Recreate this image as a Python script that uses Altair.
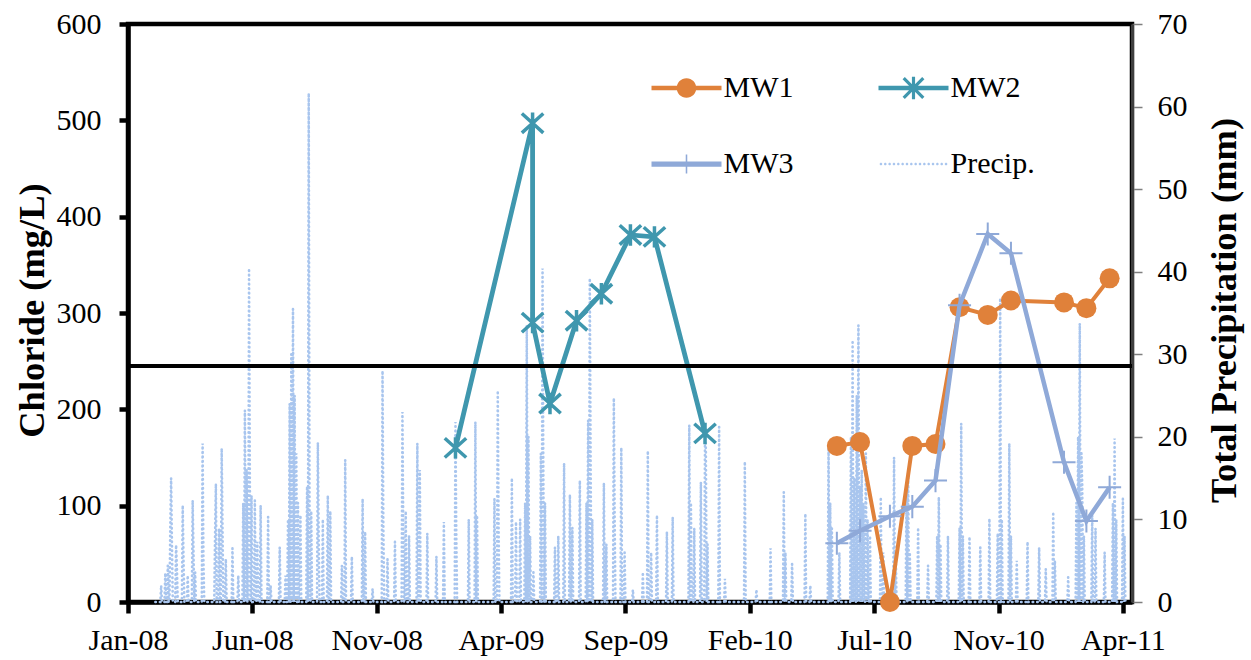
import altair as alt
import pandas as pd

SERIF = "Liberation Serif"

# ---- chloride in monitoring wells (mg/L) ----
mw2_dates = ["2009-02-11", "2009-05-15", "2009-05-15", "2009-06-05", "2009-07-07",
             "2009-08-06", "2009-09-10", "2009-10-09", "2009-12-09"]
mw2_values = [160, 497, 290, 206, 292, 320, 381, 379, 175]

mw13_dates = ["2010-05-17", "2010-06-14", "2010-07-20", "2010-08-16", "2010-09-13",
              "2010-10-12", "2010-11-15", "2010-12-13", "2011-02-15", "2011-03-14",
              "2011-04-11"]
mw1_values = [162, 166, 0, 162, 164, 306, 298, 313, 311, 305, 336]
mw3_values = [61, 74, 89, 99, 126, 308, 382, 362, 145, 84, 119]

# reference chloride level drawn across the plot (mg/L)
chloride_limit = [245]

# ---- daily precipitation (mm); days not listed were dry ----
precip_first_day = "2008-02-15"
precip_last_day = "2011-04-30"
rain_dates = [
    "2008-02-22", "2008-02-27", "2008-03-01", "2008-03-04", "2008-03-05", "2008-03-06",
    "2008-03-11", "2008-03-12", "2008-03-19", "2008-03-20", "2008-03-25", "2008-03-31",
    "2008-04-01", "2008-04-03", "2008-04-12", "2008-04-13", "2008-04-27", "2008-04-28",
    "2008-05-02", "2008-05-05", "2008-05-06", "2008-05-10", "2008-05-18", "2008-05-25",
    "2008-05-31", "2008-06-02", "2008-06-04", "2008-06-07", "2008-06-08", "2008-06-10",
    "2008-06-14", "2008-06-17", "2008-06-21", "2008-06-30", "2008-07-03", "2008-07-14",
    "2008-07-21", "2008-07-24", "2008-07-26", "2008-07-28", "2008-07-30", "2008-08-01",
    "2008-08-03", "2008-08-05", "2008-08-08", "2008-08-16", "2008-08-18", "2008-08-19",
    "2008-08-21", "2008-08-29", "2008-08-30", "2008-09-04", "2008-09-10", "2008-09-13",
    "2008-09-27", "2008-10-01", "2008-10-09", "2008-10-22", "2008-10-25", "2008-11-03",
    "2008-11-15", "2008-11-16", "2008-11-21", "2008-11-30", "2008-12-09", "2008-12-10",
    "2008-12-13", "2008-12-17", "2008-12-27", "2008-12-30",
    "2009-01-08", "2009-01-19", "2009-01-28", "2009-02-11", "2009-02-12", "2009-02-27",
    "2009-03-07", "2009-03-09", "2009-03-30", "2009-04-03", "2009-04-04", "2009-04-20",
    "2009-04-25", "2009-04-30", "2009-05-06", "2009-05-08", "2009-05-10", "2009-05-12",
    "2009-05-16", "2009-05-25", "2009-05-27", "2009-05-28", "2009-05-30", "2009-06-11",
    "2009-06-15", "2009-06-22", "2009-06-29", "2009-07-02", "2009-07-11", "2009-07-19",
    "2009-07-21", "2009-07-23", "2009-07-24", "2009-07-26", "2009-08-09", "2009-08-12",
    "2009-08-21", "2009-08-22", "2009-08-30", "2009-09-03", "2009-09-13", "2009-09-25",
    "2009-10-01", "2009-10-05", "2009-10-12", "2009-10-24", "2009-10-31", "2009-11-20",
    "2009-11-22", "2009-11-26", "2009-12-04", "2009-12-09", "2009-12-10", "2009-12-12",
    "2009-12-26",
    "2010-01-02", "2010-01-26", "2010-02-09", "2010-02-26", "2010-03-14", "2010-03-16",
    "2010-03-24", "2010-04-09", "2010-04-15", "2010-05-07", "2010-05-09", "2010-05-11",
    "2010-05-20", "2010-06-03", "2010-06-05", "2010-06-07", "2010-06-10", "2010-06-12",
    "2010-06-14", "2010-06-16", "2010-06-18", "2010-06-21", "2010-06-23", "2010-06-26",
    "2010-07-09", "2010-07-12", "2010-07-25", "2010-07-27", "2010-08-09", "2010-08-11",
    "2010-08-13", "2010-08-23", "2010-09-04", "2010-09-15", "2010-09-17", "2010-09-19",
    "2010-09-28", "2010-10-12", "2010-10-14", "2010-10-16", "2010-10-24", "2010-11-06",
    "2010-11-17", "2010-11-27", "2010-11-30", "2010-12-02", "2010-12-11", "2010-12-13",
    "2010-12-20",
    "2011-01-02", "2011-01-16", "2011-01-24", "2011-02-02", "2011-02-04", "2011-02-20",
    "2011-03-02", "2011-03-04", "2011-03-06", "2011-03-08", "2011-03-09", "2011-03-11",
    "2011-03-21", "2011-03-25", "2011-04-05", "2011-04-15", "2011-04-17", "2011-04-19",
    "2011-04-27", "2011-04-29",
]
rain_mm = [
    2, 3.5, 4.4, 9, 15, 7,
    6.9, 4, 11.7, 5, 3.2, 12.3,
    6, 3.6, 19.2, 5, 8, 14.3,
    8.9, 18.6, 9, 5.2, 6.5, 3.2,
    12, 23.2, 16, 40.4, 14, 12.9,
    12.3, 7.3, 11.7, 10.3, 2, 6.6,
    3.2, 10, 24, 30, 35.5, 25,
    18, 12, 10.5, 14, 61.6, 9,
    11, 19.3, 8, 10, 12.9, 11,
    4.4, 17.2, 5.5, 12.5, 8.5, 1.6,
    28, 9, 5.2, 7.3, 23, 9,
    11, 8, 19.2, 16,
    8.3, 5.5, 9.7, 21.8, 8, 10,
    21.8, 10.5, 12.5, 25.6, 9, 15,
    9.7, 10, 12, 33.5, 20, 8,
    3.6, 18, 40.4, 15, 12, 6.6,
    8, 16.8, 13, 9, 14.7, 12,
    22, 39.2, 17, 10, 14.4, 7,
    24.7, 10, 18.7, 6, 1.5, 3.6,
    18.3, 6, 10.5, 8.5, 10.3, 21.4,
    12, 8.9, 14.5, 20.4, 18.5, 7,
    21.2,
    2.8, 17, 1.5, 6.5, 13.3, 6,
    4.6, 10.7, 2, 19, 12, 8.9,
    6, 20, 31.7, 15, 25, 33.5,
    14, 16, 12, 18, 10, 8,
    12.7, 6, 17.5, 6, 13.6, 15.6,
    6, 9, 4.4, 8, 12.7, 7,
    8, 9, 21.6, 8, 7.9, 6.6,
    10.1, 8.3, 36.8, 10, 19.2, 8,
    5,
    7.3, 6.6, 4, 10.9, 5, 3,
    12, 20, 33.7, 18, 14, 8,
    10.5, 8.9, 6, 12, 19.8, 10,
    12.5, 8,
]

# ---- axes ----
x_domain = ["2008-01-13", "2011-05-08"]
x_tick_dates = ["2008-01-13", "2008-06-11", "2008-11-08", "2009-04-07", "2009-09-04",
                "2010-02-01", "2010-07-01", "2010-11-28", "2011-04-27"]
chloride_ticks = [0, 100, 200, 300, 400, 500, 600]
precip_ticks = [0, 10, 20, 30, 40, 50, 60, 70]

series_names = ["MW1", "MW2", "MW3", "Precip."]
C_MW1 = "#E0813A"
C_MW2 = "#3F97AE"
C_MW3 = "#8FA9D8"
C_PRECIP = "#A8C5EE"
series_colors = [C_MW1, C_MW2, C_MW3, C_PRECIP]


def ms(day):
    return int(pd.Timestamp(day, tz="UTC").timestamp() * 1000)


# ---- tables ----
mw1_df = pd.DataFrame({"date": mw13_dates, "value": mw1_values})
mw3_df = pd.DataFrame({"date": mw13_dates, "value": mw3_values})
mw2_df = pd.DataFrame({"date": mw2_dates, "value": mw2_values,
                       "seq": list(range(len(mw2_dates)))})
limit_df = pd.DataFrame({"value": chloride_limit})

days = pd.date_range(precip_first_day, precip_last_day, freq="D").strftime("%Y-%m-%d")
rain_lookup = dict(zip(rain_dates, rain_mm))
precip_df = pd.DataFrame({"date": list(days),
                          "mm": [rain_lookup.get(d, 0.0) for d in days]})

# ---- encodings ----
x_enc = alt.X(
    "date:T",
    title=None,
    scale=alt.Scale(type="utc", domain=[ms(d) for d in x_domain], nice=False),
    axis=alt.Axis(
        values=[ms(d) for d in x_tick_dates],
        labelExpr="utcFormat(datum.value, '%b-%y')",
        grid=False, labelFlush=False, labelOverlap=False,
        domainColor="black", domainWidth=4.5,
        tickColor="black", tickWidth=4.5, tickSize=11,
        labelFont=SERIF, labelFontSize=30, labelColor="black", labelPadding=12,
    ),
)

y_left = alt.Y(
    "value:Q",
    scale=alt.Scale(domain=[0, 600], nice=False),
    axis=alt.Axis(
        orient="left", values=chloride_ticks, title="Chloride (mg/L)", grid=False,
        domainColor="black", domainWidth=4.5,
        tickColor="black", tickWidth=4.5, tickSize=9,
        labelFont=SERIF, labelFontSize=30, labelColor="black", labelPadding=18,
        titleFont=SERIF, titleFontSize=36.5, titleFontWeight="bold", titleColor="black",
        titleAngle=270, titleAlign="center", titleBaseline="alphabetic",
        titleX=-85, titleY=286,
    ),
)

y_right = alt.Y(
    "mm:Q",
    scale=alt.Scale(domain=[0, 70], nice=False),
    axis=alt.Axis(
        orient="right", values=precip_ticks, title="Total Precipitation (mm)", grid=False,
        domainColor="#404040", domainWidth=3,
        tickColor="#7F7F7F", tickWidth=1.5, tickSize=10,
        labelFont=SERIF, labelFontSize=30, labelColor="black", labelPadding=15,
        titleFont=SERIF, titleFontSize=36.5, titleFontWeight="bold", titleColor="black",
        titleAngle=270, titleAlign="center", titleBaseline="alphabetic",
        titleX=103, titleY=286,
    ),
)

# ---- precipitation (secondary axis), dotted daily line ----
precip_layer = alt.Chart(precip_df).mark_line(
    color=C_PRECIP, strokeWidth=2.6, strokeDash=[0.5, 4], strokeCap="round"
).encode(x=x_enc, y=y_right)

# ---- marker shapes ----
STAR = "M-1,-0.9L1,0.9M-1,0.9L1,-0.9M0,-1L0,1"
PLUS = "M-1,0L1,0M0,-1L0,1"

mw1_line = alt.Chart(mw1_df).mark_line(color=C_MW1, strokeWidth=4).encode(x=x_enc, y=y_left)
mw1_pts = alt.Chart(mw1_df).mark_point(
    shape="circle", filled=True, size=400, color=C_MW1, opacity=1
).encode(x=x_enc, y=y_left)

mw2_line = alt.Chart(mw2_df).mark_line(color=C_MW2, strokeWidth=4.8).encode(
    x=x_enc, y=y_left, order=alt.Order("seq:Q"))
mw2_pts = alt.Chart(mw2_df).mark_point(
    shape=STAR, filled=False, size=460, color=C_MW2, strokeWidth=3.5, opacity=1
).encode(x=x_enc, y=y_left)

mw3_line = alt.Chart(mw3_df).mark_line(color=C_MW3, strokeWidth=4.5).encode(x=x_enc, y=y_left)
mw3_pts = alt.Chart(mw3_df).mark_point(
    shape=PLUS, filled=False, size=530, color=C_MW3, strokeWidth=2, opacity=1
).encode(x=x_enc, y=y_left)

limit_rule = alt.Chart(limit_df).mark_rule(color="black", strokeWidth=4).encode(y=y_left)


# ---- legend glyphs: filled outlines of "line + marker" in a unit box ----
def rect(x0, y0, x1, y1):
    return f"M{x0},{y0}L{x1},{y0}L{x1},{y1}L{x0},{y1}Z"


def disc(cx, r):
    return (f"M{cx - r:.4f},0A{r},{r} 0 1,1 {cx + r:.4f},0"
            f"A{r},{r} 0 1,1 {cx - r:.4f},0Z")


glyph_mw1 = rect(-1, -0.065, 1, 0.065) + disc(0, 0.28)
glyph_mw2 = (rect(-1, -0.065, 1, 0.065)
             + "M-0.248,-0.312L0.312,0.248L0.248,0.312L-0.312,-0.248Z"
             + "M-0.248,0.312L-0.312,0.248L0.248,-0.312L0.312,-0.248Z"
             + rect(-0.045, -0.32, 0.045, 0.32))
glyph_mw3 = rect(-1, -0.075, 1, 0.075) + rect(-0.022, -0.27, 0.022, 0.27)
glyph_precip = "".join(disc(-0.93 + 0.124 * i, 0.037) for i in range(16))
legend_paths = [glyph_mw1, glyph_mw2, glyph_mw3, glyph_precip]

legend_spec = alt.Legend(
    title=None, orient="none", direction="horizontal", columns=2,
    legendX=504, legendY=29, columnPadding=65, rowPadding=26,
    symbolSize=4900, symbolOffset=19.5, labelOffset=2, symbolStrokeWidth=0,
    labelFont=SERIF, labelFontSize=30, labelColor="black", padding=0,
    symbolOpacity=1,
)

legend_df = pd.DataFrame({"series": series_names})
legend_layer = alt.Chart(legend_df).mark_point(
    size=4900, filled=True, opacity=1, strokeWidth=0
).transform_filter("false").encode(
    color=alt.Color("series:N", scale=alt.Scale(domain=series_names, range=series_colors),
                    legend=legend_spec),
    shape=alt.Shape("series:N", scale=alt.Scale(domain=series_names, range=legend_paths),
                    legend=legend_spec),
)

left_group = alt.layer(mw1_line, mw1_pts, mw2_line, mw2_pts, mw3_line, mw3_pts,
                       limit_rule, legend_layer)

chart = alt.layer(precip_layer, left_group).resolve_scale(y="independent").properties(
    width=1004,
    height=578,
    padding={"left": 128, "top": 24, "right": 119, "bottom": 58},
    autosize=alt.AutoSizeParams(type="none"),
    background="white",
).configure_view(stroke="black", strokeWidth=4.5).configure_axis(
    labelFont=SERIF, titleFont=SERIF
)

chart.save("out.html", embed_options={"renderer": "svg", "actions": False})
